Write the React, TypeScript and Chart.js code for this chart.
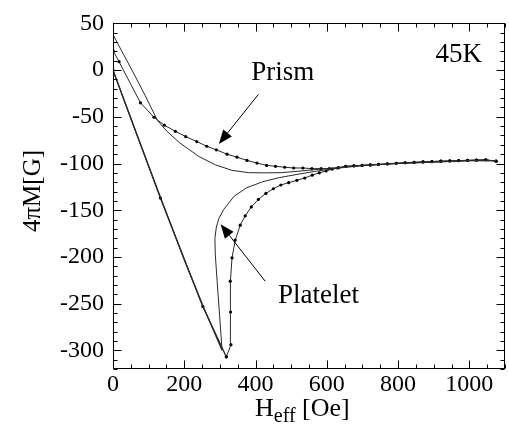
import React, { useEffect, useRef } from 'react';
import { Chart, registerables } from 'chart.js';
Chart.register(...registerables);

// ---- axis ticks ----
const xTickValues = [0, 200, 400, 600, 800, 1000];
const yTickValues = [-300, -250, -200, -150, -100, -50, 0, 50];

// ---- virgin curves ----
const virginMarkedX = [0, 133, 252, 318];
const virginMarkedY = [0, -137, -253, -307];
const virginPlainX = [0, 60, 133, 200, 252, 306];
const virginPlainY = [0, -62, -136, -203, -252, -300];

// ---- increasing-field branches ----
const lowerMarkedX = [318, 331, 330, 329, 334, 343, 357, 371, 388, 408, 429, 450, 471, 493, 516, 538, 559, 579, 598, 615, 633, 653, 676, 699, 722, 745, 770, 795, 820, 845, 870, 895, 920, 945, 970, 995, 1020, 1046, 1075];
const lowerMarkedY = [-307, -294, -259, -226, -201, -182, -166, -156, -146.5, -138.5, -132, -127, -123, -120.5, -118, -115.5, -112.5, -110, -108, -106, -104.5, -103, -102.5, -102, -101.5, -101, -100.3, -99.7, -99.2, -98.7, -98.3, -97.9, -97.5, -97.2, -96.9, -96.6, -96.3, -96, -97.5];
const lowerPlainX = [306, 299, 292, 287, 286, 290, 297, 311, 340, 375, 420, 468, 519, 565, 612, 650, 700, 800, 900, 1000, 1075];
const lowerPlainY = [-300, -262, -225, -197, -180, -168, -159, -149, -135, -126, -119.5, -115, -111.5, -108.5, -106, -104.2, -102.3, -100, -98.5, -97, -97];

// ---- decreasing-field branches ----
const upperMarkedX = [1075, 1046, 1020, 995, 970, 945, 920, 895, 870, 845, 820, 795, 770, 745, 722, 699, 676, 653, 630, 607, 584, 558, 533, 507, 482, 456, 431, 404, 376, 348, 320, 290, 263, 235, 204, 175, 144, 115, 77, 17, 0];
const upperMarkedY = [-97.5, -96, -96.3, -96.6, -96.9, -97.2, -97.5, -97.9, -98.3, -98.7, -99.2, -99.7, -100.3, -101, -101.5, -102, -102.5, -103, -104.8, -105.5, -105.5, -105.5, -104.8, -104.8, -104, -103, -102, -99.5, -96.7, -93.2, -90, -85.4, -81.5, -76.5, -71.2, -65.5, -59, -50.5, -35, 9, 21];
const upperPlainX = [1075, 1000, 900, 800, 700, 650, 612, 565, 519, 472, 427, 380, 334, 288, 241, 186, 150, 125, 90, 56, 25, 0];
const upperPlainY = [-97, -97, -98.5, -100, -102, -103.8, -105, -106.6, -108.3, -109.8, -110, -109.8, -107.3, -101.5, -92.5, -77.5, -65, -54, -27, -2, 20, 38];

// ---- annotations (data units) ----
const labelTexts = ['Prism', 'Platelet', '45K'];
const labelX = [388, 463, 905];
const labelY = [-10.5, -249, 8.5];
const arrowFrom = [[408, -26], [427, -226]];
const arrowTo = [[297, -79], [302, -165]];

const FONT = "'Liberation Serif', 'DejaVu Serif', serif";

export default function App() {
  const ref = useRef<HTMLCanvasElement>(null);
  useEffect(() => {
    const toPts = (xs: number[], ys: number[]) => xs.map((x, i) => ({ x, y: ys[i] }));
    const line = (xs: number[], ys: number[], markers: boolean, width = 1) => ({
      data: toPts(xs, ys),
      showLine: true,
      borderColor: '#2a2a2a',
      borderWidth: width,
      pointRadius: markers ? 1.6 : 0,
      pointBackgroundColor: '#000',
      pointBorderWidth: 0,
      tension: 0,
      fill: false,
    });

    const framePlugin = {
      id: 'frame',
      afterDraw(chart: any) {
        const { ctx, chartArea: a, scales } = chart;
        const xs = scales.x, ys = scales.y;
        const L = Math.round(a.left) + 0.5, R = Math.round(a.right) - 0.5;
        const T = Math.round(a.top) + 0.5, B = Math.round(a.bottom) - 0.5;
        ctx.save();
        ctx.strokeStyle = '#000';
        ctx.lineWidth = 1;
        ctx.strokeRect(L, T, R - L, B - T);
        ctx.beginPath();
        for (let v = 0; v <= 1100; v += 50) {
          const px = Math.round(xs.getPixelForValue(v)) + 0.5;
          const len = v % 200 === 0 ? 8 : 4;
          ctx.moveTo(px, B); ctx.lineTo(px, B - len);
          ctx.moveTo(px, T); ctx.lineTo(px, T + len);
        }
        for (let v = -320; v <= 50; v += 10) {
          const py = Math.round(ys.getPixelForValue(v)) + 0.5;
          const len = v % 50 === 0 ? 8 : 4;
          ctx.moveTo(L, py); ctx.lineTo(L + len, py);
          ctx.moveTo(R, py); ctx.lineTo(R - len, py);
        }
        ctx.stroke();

        // axis titles
        ctx.fillStyle = '#000';
        ctx.textBaseline = 'alphabetic';
        ctx.textAlign = 'left';
        let x = 255;
        const by = 416;
        ctx.font = `26px ${FONT}`;
        ctx.fillText('H', x, by);
        x += ctx.measureText('H').width;
        ctx.font = `20px ${FONT}`;
        ctx.fillText('eff', x, by + 6);
        x += ctx.measureText('eff').width;
        ctx.font = `26px ${FONT}`;
        ctx.fillText(' [Oe]', x, by);

        ctx.save();
        ctx.translate(40, 191);
        ctx.rotate(-Math.PI / 2);
        ctx.textAlign = 'center';
        ctx.font = `25px ${FONT}`;
        ctx.fillText('4\u03c0M[G]', 0, 0);
        ctx.restore();

        // annotations
        labelTexts.forEach((t, i) => {
          ctx.font = `27px ${FONT}`;
          ctx.textAlign = 'left';
          ctx.fillText(t, xs.getPixelForValue(labelX[i]), ys.getPixelForValue(labelY[i]));
        });
        arrowFrom.forEach((f, i) => {
          const x1 = xs.getPixelForValue(f[0]), y1 = ys.getPixelForValue(f[1]);
          const x2 = xs.getPixelForValue(arrowTo[i][0]), y2 = ys.getPixelForValue(arrowTo[i][1]);
          const ang = Math.atan2(y2 - y1, x2 - x1);
          const hl = 14, hw = 5.5;
          const bx = x2 - hl * Math.cos(ang), by2 = y2 - hl * Math.sin(ang);
          ctx.beginPath();
          ctx.lineWidth = 1;
          ctx.moveTo(x1, y1); ctx.lineTo(bx, by2);
          ctx.stroke();
          ctx.beginPath();
          ctx.moveTo(x2, y2);
          ctx.lineTo(bx + hw * Math.sin(ang), by2 - hw * Math.cos(ang));
          ctx.lineTo(bx - hw * Math.sin(ang), by2 + hw * Math.cos(ang));
          ctx.closePath();
          ctx.fill();
        });
        ctx.restore();
      },
    };

    const tickFont = { family: FONT, size: 24 };
    const fmt = (v: any) => String(v);
    const chart = new Chart(ref.current as HTMLCanvasElement, {
      type: 'scatter',
      data: {
        datasets: [
          line(virginPlainX, virginPlainY, false, 1.3),
          line(virginMarkedX, virginMarkedY, true, 1.3),
          line(lowerPlainX, lowerPlainY, false),
          line(upperPlainX, upperPlainY, false),
          line(lowerMarkedX, lowerMarkedY, true),
          line(upperMarkedX, upperMarkedY, true),
        ] as any,
      },
      options: {
        animation: false,
        responsive: false,
        devicePixelRatio: 1,
        layout: { padding: { top: 20, right: 0, left: 0, bottom: 0 } },
        plugins: { legend: { display: false }, tooltip: { enabled: false } },
        scales: {
          x: {
            type: 'linear', min: 0, max: 1100,
            afterBuildTicks: (s: any) => { s.ticks = xTickValues.map((v) => ({ value: v })); },
            afterFit: (s: any) => { s.height = 69; },
            grid: { display: false, drawTicks: false },
            border: { display: false },
            ticks: { font: tickFont, color: '#000', padding: 1, maxRotation: 0, autoSkip: false, callback: fmt },
          },
          y: {
            type: 'linear', min: -320, max: 50,
            afterBuildTicks: (s: any) => { s.ticks = yTickValues.map((v) => ({ value: v })); },
            afterFit: (s: any) => { s.width = 113; },
            grid: { display: false, drawTicks: false },
            border: { display: false },
            ticks: { font: tickFont, color: '#000', padding: 9, autoSkip: false, callback: fmt },
          },
        },
      } as any,
      plugins: [framePlugin],
    });
    return () => chart.destroy();
  }, []);
  return (
    <div style={{ position: 'absolute', left: 0, top: 0, width: 509, height: 438, background: '#fff' }}>
      <canvas ref={ref} width={509} height={438} style={{ display: 'block' }} />
    </div>
  );
}
